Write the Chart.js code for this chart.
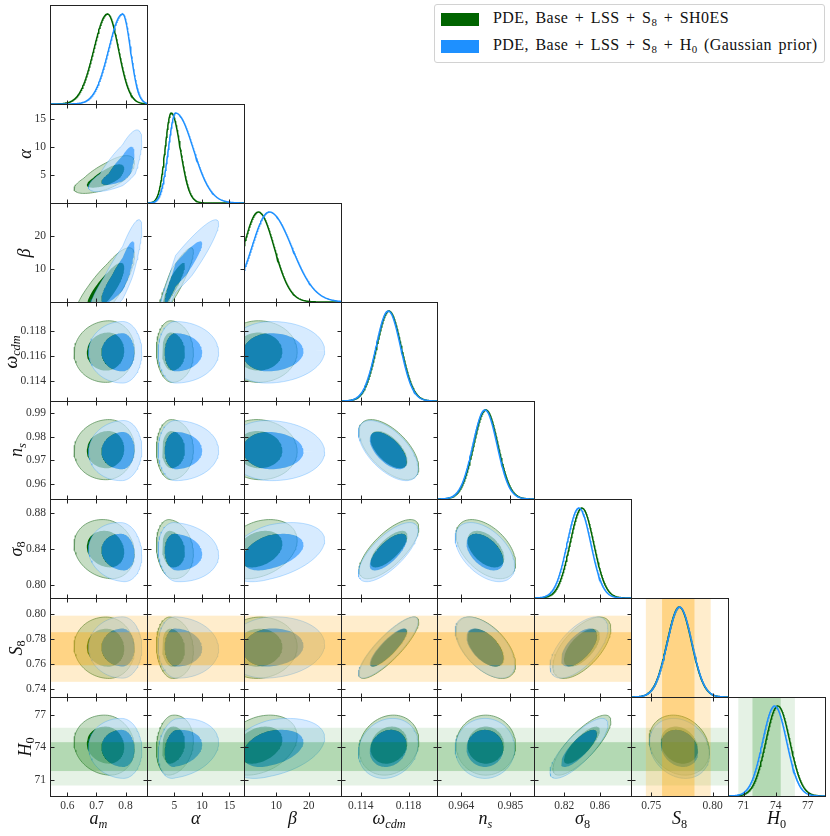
<!DOCTYPE html>
<html>
<head>
<meta charset="utf-8">
<script src="https://cdn.jsdelivr.net/npm/chart.js"></script>
<style>
  html, body { margin: 0; padding: 0; background: #fff; }
  #fig { position: relative; width: 830px; height: 836px; overflow: hidden; background: #fff; }
  .cell { position: absolute; }
  .lab { position: absolute; font-family: "Liberation Serif", serif; font-style: italic; font-size: 18px;
         line-height: 18px; height: 18px; color: #111; white-space: nowrap; }
  .lab sub { font-size: 0.68em; vertical-align: -0.3em; line-height: 0; }
  .lab sub.n { font-style: normal; }
  #legend { position: absolute; left: 434px; top: 4px; width: 391px; height: 59px; box-sizing: border-box;
            border: 1px solid #d2d2d2; border-radius: 3px; background: #fff;
            font-family: "Liberation Serif", serif; font-size: 16px; color: #111; }
  #legend .sw { position: absolute; left: 6px; width: 38px; height: 13px; }
  #legend .txt { position: absolute; left: 58px; line-height: 18px; white-space: nowrap;
                 word-spacing: 2px; letter-spacing: 0.45px; }
  #legend sub { font-size: 0.68em; vertical-align: -0.25em; line-height: 0; }
</style>
</head>
<body>
<div id="fig">
  <div id="legend">
    <span class="sw" style="top:8px;background:#006400"></span>
    <span class="txt" style="top:4px">PDE, Base + LSS + S<sub>8</sub> + SH0ES</span>
    <span class="sw" style="top:35px;background:#1e90ff"></span>
    <span class="txt" style="top:31px">PDE, Base + LSS + S<sub>8</sub> + H<sub>0</sub> (Gaussian prior)</span>
  </div>
</div>
<script>
// parametros del triangulo
const paramNames = ['a_m', 'alpha', 'beta', 'omega_cdm', 'n_s', 'sigma_8', 'S_8', 'H_0'];
const axisTitles = ['a<sub>m</sub>', 'α', 'β', 'ω<sub>cdm</sub>', 'n<sub>s</sub>',
                    'σ<sub class="n">8</sub>', 'S<sub class="n">8</sub>', 'H<sub class="n">0</sub>'];
const axisMin = [0.54, 0, 0, 0.11235, 0.9536, 0.786, 0.7335, 69.55];
const axisMax = [0.874, 17.65, 30, 0.12038, 0.9951, 0.895, 0.8125, 78.6];

const xTicks = [[0.6, 0.7, 0.8], [5, 10, 15], [10, 20], [0.114, 0.118], [0.964, 0.985],
                [0.82, 0.86], [0.75, 0.80], [71, 74, 77]];
const xTickLabels = [['0.6', '0.7', '0.8'], ['5', '10', '15'], ['10', '20'], ['0.114', '0.118'],
                     ['0.964', '0.985'], ['0.82', '0.86'], ['0.75', '0.80'], ['71', '74', '77']];
const yTicks = [[], [5, 10, 15], [10, 20], [0.114, 0.116, 0.118], [0.96, 0.97, 0.98, 0.99],
                [0.80, 0.84, 0.88], [0.74, 0.76, 0.78, 0.80], [71, 74, 77]];
const yTickLabels = [[], ['5', '10', '15'], ['10', '20'], ['0.114', '0.116', '0.118'],
                     ['0.96', '0.97', '0.98', '0.99'], ['0.80', '0.84', '0.88'],
                     ['0.74', '0.76', '0.78', '0.80'], ['71', '74', '77']];

// PDE, Base + LSS + S8 + SH0ES (verde): pico y anchura a cada lado
const greenPeak   = [0.738, 4.4, 4.44, 0.11636, 0.9745, 0.8398, 0.7728, 74.2];
const greenLowSd  = [0.047, 1.1, 4.6, 0.00102, 0.0052, 0.0133, 0.0100, 1.12];
const greenHighSd = [0.038, 1.65, 4.9, 0.00102, 0.0052, 0.0133, 0.0100, 1.12];
// PDE, Base + LSS + S8 + H0 gaussiano (azul)
const bluePeak    = [0.790, 5.2, 7.8, 0.11630, 0.9741, 0.8365, 0.7730, 73.9];
const blueLowSd   = [0.048, 1.3, 5.4, 0.00102, 0.0052, 0.0133, 0.0100, 1.12];
const blueHighSd  = [0.027, 3.2, 7.0, 0.00102, 0.0052, 0.0133, 0.0100, 1.12];

// correlaciones (triangulo inferior, fila = parametro en y)
const greenCorr = [
  [],
  [0.70],
  [0.80, 0.90],
  [0.05, -0.05, 0.00],
  [0.05, 0.00, -0.05, -0.60],
  [-0.15, -0.15, 0.30, 0.72, -0.48],
  [-0.05, -0.10, 0.05, 0.85, -0.55, 0.62],
  [-0.10, 0.15, 0.30, 0.15, 0.00, 0.80, -0.20]
];
const blueCorr = [
  [],
  [0.75],
  [0.85, 0.93],
  [0.00, 0.00, 0.05],
  [0.05, 0.00, -0.05, -0.60],
  [-0.10, -0.10, 0.40, 0.72, -0.48],
  [0.00, -0.05, 0.10, 0.85, -0.55, 0.62],
  [-0.05, 0.20, 0.35, 0.15, 0.00, 0.80, -0.20]
];

// bandas de los priors (S8 y H0)
const s8Prior = [0.772, 0.0132];
const h0Prior = [73.15, 1.32];

// posicion de los paneles en la figura
const colX = [50, 147, 244, 341, 437, 534, 631, 728, 825];
const rowY = [5, 104, 203, 302, 401, 499, 598, 697, 796];
const LEFT_EXTRA = 50;
const BOTTOM_EXTRA = 22;
const TICK_FONT = { family: 'Liberation Serif', size: 11.5 };
const R68 = 1.515, R95 = 2.448;

const fig = document.getElementById('fig');

function contour(peak, lo, hi, corr, i, j, r) {
  const rho = corr[i][j];
  const pts = [];
  for (let k = 0; k <= 96; k++) {
    const t = 2 * Math.PI * k / 96;
    const zx = r * Math.cos(t);
    const zy = r * (rho * Math.cos(t) + Math.sqrt(1 - rho * rho) * Math.sin(t));
    pts.push({
      x: peak[j] + zx * (zx < 0 ? lo[j] : hi[j]),
      y: peak[i] + zy * (zy < 0 ? lo[i] : hi[i])
    });
  }
  return pts;
}

// anillo entre el nivel 95% y el 68% (como contourf)
function ring(outer, inner) {
  return outer.concat(inner.slice().reverse());
}

function marginal(peak, lo, hi, p) {
  const pts = [];
  const n = 200;
  for (let k = 0; k <= n; k++) {
    const x = axisMin[p] + (axisMax[p] - axisMin[p]) * k / n;
    const z = (x - peak[p]) / (x < peak[p] ? lo[p] : hi[p]);
    pts.push({ x: x, y: Math.exp(-0.5 * z * z) });
  }
  return pts;
}

function drawBands(chart, i, j) {
  const { ctx, chartArea: a, scales } = chart;
  const xs = scales.x, ys = scales.y;
  ctx.save();
  ctx.beginPath();
  ctx.rect(a.left, a.top, a.right - a.left, a.bottom - a.top);
  ctx.clip();
  const vband = (prior, rgb, alphas) => {
    [2, 1].forEach((k, n) => {
      const x0 = xs.getPixelForValue(prior[0] - k * prior[1]);
      const x1 = xs.getPixelForValue(prior[0] + k * prior[1]);
      ctx.fillStyle = 'rgba(' + rgb + ',' + alphas[n] + ')';
      ctx.fillRect(x0, a.top, x1 - x0, a.bottom - a.top);
    });
  };
  const hband = (prior, rgb, alphas) => {
    [2, 1].forEach((k, n) => {
      const y0 = ys.getPixelForValue(prior[0] + k * prior[1]);
      const y1 = ys.getPixelForValue(prior[0] - k * prior[1]);
      ctx.fillStyle = 'rgba(' + rgb + ',' + alphas[n] + ')';
      ctx.fillRect(a.left, y0, a.right - a.left, y1 - y0);
    });
  };
  if (i !== j) {
    if (i === 6) hband(s8Prior, '255,165,0', [0.2, 0.35]);
    if (i === 7) hband(h0Prior, '0,128,0', [0.1, 0.22]);
  }
  if (j === 6) vband(s8Prior, '255,165,0', [0.2, 0.35]);
  if (j === 7) vband(h0Prior, '0,128,0', [0.1, 0.22]);
  ctx.restore();
}

function drawFrame(chart, i, j) {
  const { ctx, chartArea: a, scales } = chart;
  const L = Math.round(a.left) + 0.5, R = Math.round(a.right) + 0.5;
  const T = Math.round(a.top) + 0.5, B = Math.round(a.bottom) + 0.5;
  const len = 4;
  ctx.save();
  ctx.strokeStyle = '#222';
  ctx.lineWidth = 1;
  ctx.strokeRect(L, T, R - L, B - T);
  ctx.beginPath();
  xTicks[j].forEach(v => {
    const px = Math.round(scales.x.getPixelForValue(v)) + 0.5;
    ctx.moveTo(px, B); ctx.lineTo(px, B - len);
    if (i !== j) { ctx.moveTo(px, T); ctx.lineTo(px, T + len); }
  });
  if (i !== j) {
    yTicks[i].forEach(v => {
      const py = Math.round(scales.y.getPixelForValue(v)) + 0.5;
      ctx.moveTo(L, py); ctx.lineTo(L + len, py);
      ctx.moveTo(R, py); ctx.lineTo(R - len, py);
    });
  }
  ctx.stroke();
  ctx.restore();
}

function makePanel(i, j) {
  const w = colX[j + 1] - colX[j];
  const h = rowY[i + 1] - rowY[i];
  const diag = (i === j);
  const showY = (j === 0 && i > 0);
  const showX = (i === 7);
  const le = showY ? LEFT_EXTRA : 0;
  const be = showX ? BOTTOM_EXTRA : 0;

  const box = document.createElement('div');
  box.className = 'cell';
  box.style.left = (colX[j] - le - 1) + 'px';
  box.style.top = (rowY[i] - 1) + 'px';
  box.style.width = (w + le + 3) + 'px';
  box.style.height = (h + be + 3) + 'px';
  const cv = document.createElement('canvas');
  box.appendChild(cv);
  fig.appendChild(box);

  let datasets;
  if (diag) {
    datasets = [
      { data: marginal(bluePeak, blueLowSd, blueHighSd, j), borderColor: '#1e90ff', order: 0 },
      { data: marginal(greenPeak, greenLowSd, greenHighSd, j), borderColor: '#006400', order: 1 }
    ].map(d => Object.assign(d, { showLine: true, borderWidth: 1.5, pointRadius: 0, fill: false }));
  } else {
    const b68 = contour(bluePeak, blueLowSd, blueHighSd, blueCorr, i, j, R68);
    const b95 = contour(bluePeak, blueLowSd, blueHighSd, blueCorr, i, j, R95);
    const g68 = contour(greenPeak, greenLowSd, greenHighSd, greenCorr, i, j, R68);
    const g95 = contour(greenPeak, greenLowSd, greenHighSd, greenCorr, i, j, R95);
    datasets = [
      { data: b95, fill: false, borderColor: 'rgba(30,144,255,0.35)', borderWidth: 0.8, order: 0 },
      { data: b68, fill: 'shape', backgroundColor: 'rgba(30,144,255,0.7)', borderWidth: 0, order: 1 },
      { data: ring(b95, b68), fill: 'shape', backgroundColor: 'rgba(198,227,255,0.7)', borderWidth: 0, order: 2 },
      { data: g68, fill: 'shape', backgroundColor: '#006400', borderWidth: 0, order: 3 },
      { data: g95, fill: 'shape', backgroundColor: 'rgb(198,221,196)', borderColor: '#5f955f', borderWidth: 0.8, order: 4 }
    ].map(d => Object.assign(d, { showLine: true, pointRadius: 0, tension: 0 }));
  }

  const zeroPad = ax => { ax.paddingLeft = 0; ax.paddingRight = 0; ax.paddingTop = 0; ax.paddingBottom = 0; };

  new Chart(cv, {
    type: 'scatter',
    data: { datasets: datasets },
    options: {
      responsive: true,
      maintainAspectRatio: false,
      animation: false,
      events: [],
      layout: { padding: { left: 1, top: 1, right: 2, bottom: 2 } },
      plugins: { legend: { display: false }, tooltip: { enabled: false } },
      scales: {
        x: {
          type: 'linear', min: axisMin[j], max: axisMax[j], display: showX,
          grid: { display: false, drawTicks: false }, border: { display: false },
          afterBuildTicks: ax => { ax.ticks = xTicks[j].map(v => ({ value: v })); },
          afterFit: ax => { zeroPad(ax); ax.height = showX ? BOTTOM_EXTRA : 0; },
          ticks: { autoSkip: false, maxRotation: 0, padding: 3, color: '#333', font: TICK_FONT,
                   callback: (v, k) => xTickLabels[j][k] }
        },
        y: {
          type: 'linear', min: diag ? 0 : axisMin[i], max: diag ? 1.1 : axisMax[i], display: showY,
          grid: { display: false, drawTicks: false }, border: { display: false },
          afterBuildTicks: ax => { if (!diag) ax.ticks = yTicks[i].map(v => ({ value: v })); },
          afterFit: ax => { zeroPad(ax); ax.width = showY ? LEFT_EXTRA : 0; },
          ticks: { autoSkip: false, padding: 4, color: '#333', font: TICK_FONT,
                   callback: (v, k) => yTickLabels[i][k] }
        }
      }
    },
    plugins: [{
      id: 'panel' + i + j,
      beforeDatasetsDraw: chart => { if (diag) drawBands(chart, i, j); },
      afterDatasetsDraw: chart => { if (!diag) drawBands(chart, i, j); },
      afterDraw: chart => drawFrame(chart, i, j)
    }]
  });
}

for (let i = 0; i < 8; i++) {
  for (let j = 0; j <= i; j++) makePanel(i, j);
}

// titulos de los ejes
const measure = document.createElement('canvas').getContext('2d');
measure.font = TICK_FONT.size + 'px "' + TICK_FONT.family + '"';

for (let j = 0; j < 8; j++) {
  const el = document.createElement('div');
  el.className = 'lab';
  el.innerHTML = axisTitles[j];
  el.style.top = '809px';
  fig.appendChild(el);
  const cx = (colX[j] + colX[j + 1]) / 2;
  el.style.left = (cx - el.offsetWidth / 2) + 'px';
}
for (let i = 1; i < 8; i++) {
  const el = document.createElement('div');
  el.className = 'lab';
  el.innerHTML = axisTitles[i];
  fig.appendChild(el);
  const wMax = Math.max(...yTickLabels[i].map(s => measure.measureText(s).width));
  const tickLeft = colX[0] - 4 - wMax;
  const cx = tickLeft - 10;
  const cy = (rowY[i] + rowY[i + 1]) / 2;
  el.style.left = (cx - el.offsetWidth / 2) + 'px';
  el.style.top = (cy - 9) + 'px';
  el.style.transform = 'rotate(-90deg)';
  el.style.transformOrigin = '50% 50%';
}
</script>
</body>
</html>
